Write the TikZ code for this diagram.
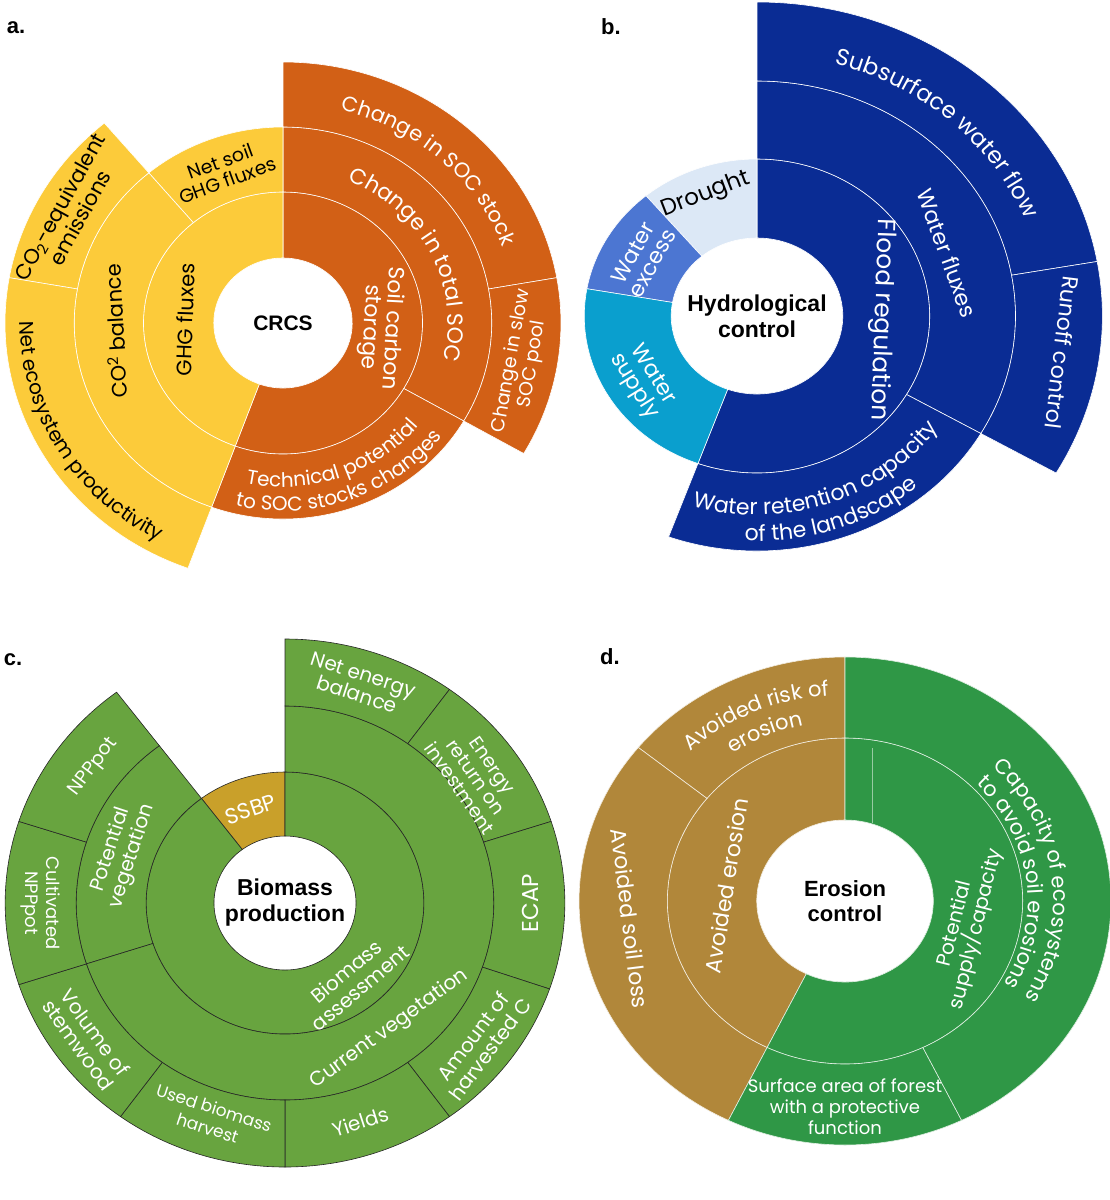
\documentclass[tikz,border=0pt]{standalone}
\usepackage{fontspec}
\setmainfont{Poppins}
\newfontfamily\arl{Liberation Sans}
\usetikzlibrary{decorations.text}
\definecolor{orng}{HTML}{D26016}
\definecolor{yell}{HTML}{FCCB3A}
\definecolor{dblue}{HTML}{0A2C94}
\definecolor{lblue}{HTML}{DCE8F6}
\definecolor{mblue}{HTML}{4C76D2}
\definecolor{cyanb}{HTML}{0A9FCE}
\definecolor{cgreen}{HTML}{68A43F}
\definecolor{cgold}{HTML}{C9A02A}
\definecolor{dbrown}{HTML}{B1873A}
\definecolor{dgreen}{HTML}{2F9746}
\newcommand\fz[2]{\fontsize{#1}{#2}\selectfont}
\newcommand\bfz[1]{\arl\fontsize{#1}{#1}\selectfont\bfseries}
\newcommand\seg[5]{\path[#5,line width=0.6pt] (#1:{#3*\kx} and {#3}) arc[start angle=#1,end angle=#2,x radius={#3*\kx},y radius={#3}] -- (#2:{#4*\kx} and {#4}) arc[start angle=#2,end angle=#1,x radius={#4*\kx},y radius={#4}] -- cycle;}
\newcommand\ctext[6]{\path[decorate,decoration={text along path,text align=center,text color=#5,text={|\fz{#4}{#4}|#6}}] (#2:{#1*\kx} and {#1}) arc[start angle=#2,end angle=#3,x radius={#1*\kx},y radius={#1}];}
\tikzset{
 sO/.style={fill=orng,draw=white}, sY/.style={fill=yell,draw=white},
 sB/.style={fill=dblue,draw=white}, sLB/.style={fill=lblue,draw=white},
 sMB/.style={fill=mblue,draw=white}, sCB/.style={fill=cyanb,draw=white},
 sG/.style={fill=cgreen,draw=black!85}, sGo/.style={fill=cgold,draw=black!85},
 sR/.style={fill=dbrown,draw=white!85!dbrown}, sV/.style={fill=dgreen,draw=white!85!dgreen}}
\begin{document}
\begin{tikzpicture}[x=1pt,y=1pt,
 lab/.style={text=white,align=center,inner sep=0pt},
 blk/.style={text=black,align=center,inner sep=0pt},
 pl/.style={text=black,inner sep=0pt,font=\bfz{22}}]
\fill[white] (0,0) rectangle (1110,-1200);
\useasboundingbox (0,0) rectangle (1110,-1200);
\node[pl] (la) at (16,-28) {a.};
\node[pl] (lb) at (611,-27) {b.};
\node[pl] (lc) at (13,-660) {c.};
\node[pl] (ld) at (610,-657) {d.};
% ---------- a
\begin{scope}[shift={(283,-323)}]
\def\kx{1.065}
\seg{-110}{90}{65}{131}{sO}
\seg{-30}{90}{131}{196}{sO}
\seg{-110}{-30}{131}{196}{sO}
\seg{10}{90}{196}{261}{sO}
\seg{-30}{10}{196}{261}{sO}
\seg{90}{250}{65}{131}{sY}
\seg{90}{130}{131}{196}{sY}
\seg{130}{250}{131}{196}{sY}
\seg{130}{170}{196}{261}{sY}
\seg{170}{250}{196}{261}{sY}
\node[blk,font=\bfz{21}] (crcs) at (0,0) {CRCS};
\node[lab,rotate=-93,font=\fz{22}{22}] (sc) at (-3:{92*\kx} and 92) {Soil carbon\\storage};
\ctext{155}{86}{-34}{22}{white}{Change in total SOC}
\ctext{220}{107}{-13}{21}{white}{Change in SOC stock}
\node[lab,rotate=80,font=\fz{19}{21}] (slow) at (-10:{228*\kx} and 228) {Change in slow\\SOC pool};
\ctext{164}{230}{350}{20}{white}{Technical potential}
\ctext{188}{230}{350}{20}{white}{to SOC stocks changes}
\node[blk,rotate=88,font=\fz{21}{24}] (ghg) at (178:{92*\kx} and 92) {GHG fluxes};
\node[blk,rotate=93,font=\fz{21}{24}] (co2b) at (183:{158*\kx} and 158) {CO\textsuperscript{2} balance};
\node[blk,rotate=20,font=\fz{19}{20}] (nsoil) at (110:{162*\kx} and 162) {Net soil\\GHG fluxes};
\node[blk,rotate=61,font=\fz{21}{23}] (co2e) at (151:{229*\kx} and 229) {CO\textsubscript{2}-equivalent\\emissions};
\ctext{247}{150}{270}{20}{black}{Net ecosystem productivity}
\end{scope}
% ---------- b
\begin{scope}[shift={(757,-316)}]
\def\kx{1.1}
\seg{-110}{90}{78}{157}{sB}
\seg{90}{130}{78}{157}{sLB}
\seg{130}{170}{78}{157}{sMB}
\seg{170}{250}{78}{157}{sCB}
\seg{-30}{90}{157}{235}{sB}
\seg{-110}{-30}{157}{235}{sB}
\seg{10}{90}{235}{314}{sB}
\seg{-30}{10}{235}{314}{sB}
\node[blk,font=\bfz{23}] (hyd) at (0,0) {Hydrological\\[3pt]control};
\node[lab,rotate=-92,font=\fz{25}{30}] (flood) at (-2:{113*\kx} and 113) {Flood regulation};
\node[lab,rotate=-70,font=\fz{22}{25}] (wf) at (20:{184*\kx} and 184) {Water fluxes};
\ctext{262}{106}{-13}{23}{white}{Subsurface water flow}
\node[lab,rotate=-97,font=\fz{22}{26}] (run) at (-7.5:{280*\kx} and 280) {Runoff control};
\node[blk,rotate=21,font=\fz{23}{28}] (dr) at (111:{130*\kx} and 130) {Drought};
\node[lab,rotate=61,font=\fz{22}{22}] (wex) at (151:{119*\kx} and 119) {Water\\excess};
\node[lab,rotate=-58,font=\fz{22}{22}] (wsup) at (212:{122*\kx} and 122) {Water\\supply};
\ctext{199}{230}{350}{22}{white}{Water retention capacity}
\ctext{225}{230}{350}{22}{white}{of the landscape}
\end{scope}
% ---------- c
\begin{scope}[shift={(285,-903)}]
\def\kx{1.06}
\seg{90}{127}{67}{131}{sGo}
\seg{-233}{90}{67}{131}{sG}
\seg{127}{198}{131}{197}{sG}
\seg{-162}{90}{131}{197}{sG}
\seg{54}{90}{197}{264}{sG}
\seg{18}{54}{197}{264}{sG}
\seg{-19}{18}{197}{264}{sG}
\seg{-54}{-19}{197}{264}{sG}
\seg{-90}{-54}{197}{264}{sG}
\seg{-126}{-90}{197}{264}{sG}
\seg{-162}{-126}{197}{264}{sG}
\seg{162}{198}{197}{264}{sG}
\seg{127}{162}{197}{264}{sG}
\node[blk,font=\bfz{23}] (bio) at (0,0) {Biomass\\[3pt]production};
\node[lab,rotate=19,font=\fz{22}{26}] (ssbp) at (109:{99*\kx} and 99) {SSBP};
\node[lab,rotate=40,font=\fz{20}{22}] (bass) at (-50:{100*\kx} and 100) {Biomass\\assessment};
\node[lab,rotate=36,font=\fz{20}{24}] (cur) at (-52:{160*\kx} and 160) {Current vegetation};
\node[lab,rotate=72,font=\fz{20}{22}] (pot) at (162:{162*\kx} and 162) {Potential\\vegetation};
\node[lab,rotate=-18,font=\fz{20}{21}] (neb) at (72:{230*\kx} and 230) {Net energy\\balance};
\node[lab,rotate=-55,font=\fz{19}{20}] (eroi) at (35:{220*\kx} and 220) {Energy\\return on\\investment};
\node[lab,rotate=90,font=\fz{23}{26}] (ecap) at (0:{232*\kx} and 232) {ECAP};
\node[lab,rotate=53,font=\fz{20}{21}] (amt) at (-37:{232*\kx} and 232) {Amount of\\harvested C};
\node[lab,rotate=18,font=\fz{20}{24}] (yld) at (-72:{230*\kx} and 230) {Yields};
\node[lab,rotate=-18,font=\fz{17}{21}] (used) at (-108:{226*\kx} and 226) {Used biomass\\harvest};
\node[lab,rotate=-54,font=\fz{20}{21}] (vol) at (-144:{231*\kx} and 231) {Volume of\\stemwood};
\node[lab,rotate=-90,font=\fz{18}{21}] (cult) at (180:{231*\kx} and 231) {Cultivated\\NPPpot};
\node[lab,rotate=53,font=\fz{19}{24}] (npp) at (143:{226*\kx} and 226) {NPPpot};
\end{scope}
% ---------- d
\begin{scope}[shift={(845,-901)}]
\def\kx{1.09}
\seg{90}{244}{81}{163}{sR}
\seg{-116}{90}{81}{163}{sV}
\seg{90}{141}{163}{244}{sR}
\seg{141}{244}{163}{244}{sR}
\seg{-116}{-64}{163}{244}{sV}
\seg{-64}{90}{163}{244}{sV}
\draw[white,opacity=0.5,line width=0.6pt] (27.7,153) -- (27.7,78.4);
\node[blk,font=\bfz{22}] (ero) at (0,0) {Erosion\\[3pt]control};
\node[lab,rotate=81,font=\fz{22}{27}] (aer) at (172:{110*\kx} and 110) {Avoided erosion};
\node[lab,rotate=76,font=\fz{20}{22}] (psup) at (-13:{114*\kx} and 114) {Potential\\supply/capacity};
\ctext{206}{175}{55}{21}{white}{Avoided risk of}
\ctext{180}{175}{55}{21}{white}{erosion}
\node[lab,rotate=-83,font=\fz{22}{26}] (asl) at (185:{198*\kx} and 198) {Avoided soil loss};
\node[lab,font=\fz{18}{21}] (surf) at (-90:{206*\kx} and 206) {Surface area of forest\\with a protective\\function};
\ctext{191}{67}{-53}{21}{white}{Capacity of ecosystems}
\ctext{168}{67}{-53}{21}{white}{to avoid soil erosions}
\end{scope}
\end{tikzpicture}
\end{document}
